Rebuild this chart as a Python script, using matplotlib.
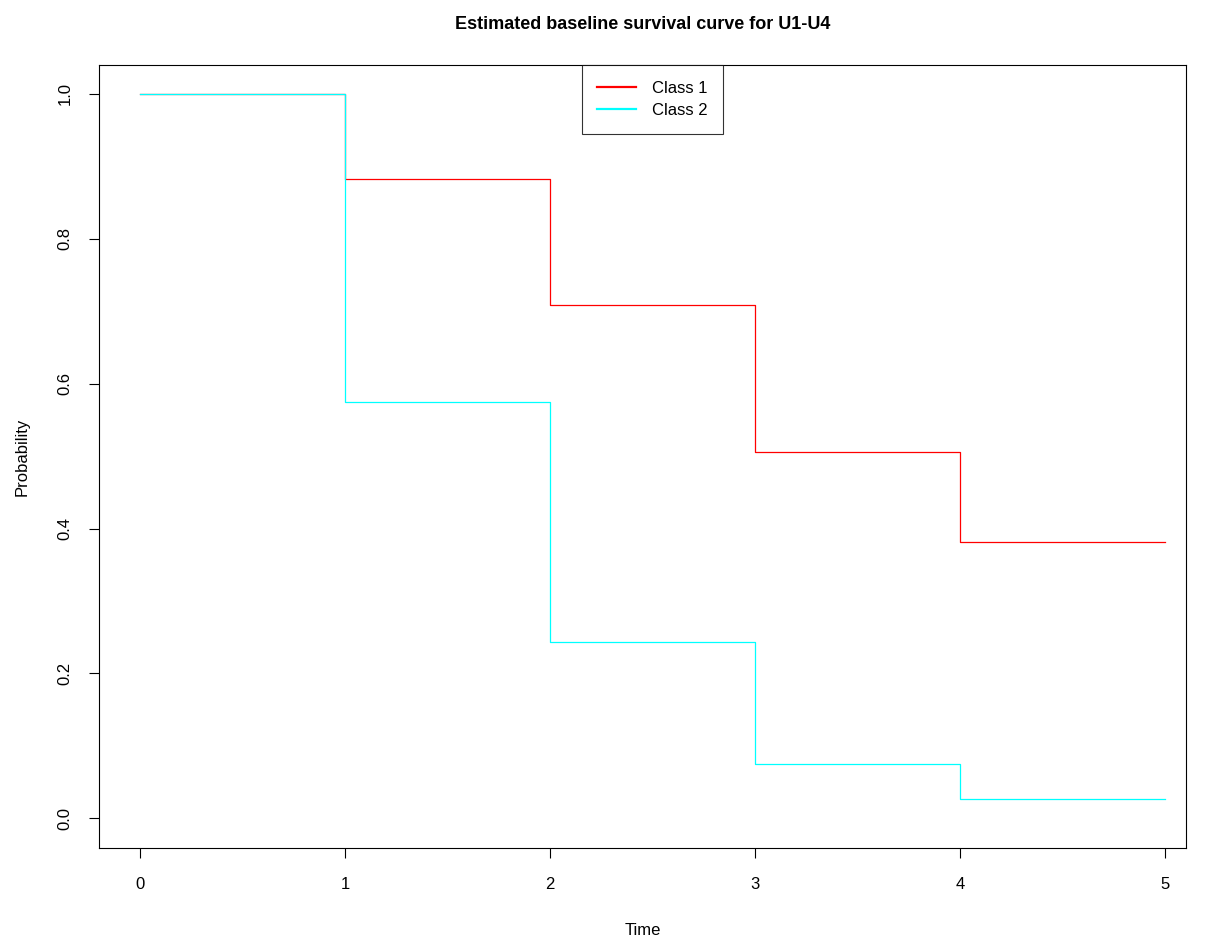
import matplotlib
matplotlib.use("Agg")
import matplotlib.pyplot as plt

plt.rcParams["font.family"] = ["Liberation Sans", "DejaVu Sans"]

times = [0, 1, 2, 3, 4, 5]
class1 = [1.0, 0.883, 0.709, 0.506, 0.381, 0.381]
class2 = [1.0, 0.575, 0.243, 0.075, 0.026, 0.026]
xticks = [0, 1, 2, 3, 4, 5]
yticks = [0.0, 0.2, 0.4, 0.6, 0.8, 1.0]

fig = plt.figure(figsize=(12.06, 9.46), dpi=100)
ax = fig.add_axes([0.0821, 0.1036, 0.9013, 0.8277])

ax.step(times, class1, where="post", color="red", lw=0.9, label="Class 1")
ax.step(times, class2, where="post", color="cyan", lw=0.9, label="Class 2")

ax.set_xlim(-0.2, 5.1)
ax.set_ylim(-0.041, 1.04)
ax.set_xticks(xticks)
ax.set_xticklabels([str(t) for t in xticks])
ax.set_yticks(yticks)
ax.set_yticklabels([f"{v:.1f}" for v in yticks], rotation=90, va="center")
ax.tick_params(direction="out", length=7, width=0.8, labelsize=12, pad=14)
ax.tick_params(axis="y", pad=12)
for s in ax.spines.values():
    s.set_linewidth(0.8)

ax.set_xlabel("Time", fontsize=12, labelpad=22)
ax.set_ylabel("Probability", fontsize=12, labelpad=20)
ax.set_title("Estimated baseline survival curve for U1-U4", fontsize=13,
             fontweight="bold", pad=26)

leg = ax.legend(loc="upper left", bbox_to_anchor=(0.444, 1.0), fontsize=12,
                frameon=True, fancybox=False, handlelength=2.3,
                borderpad=0.95, labelspacing=0.45, handletextpad=0.95,
                borderaxespad=0)
leg.get_frame().set_edgecolor("black")
leg.get_frame().set_linewidth(0.8)
for line in leg.get_lines():
    line.set_linewidth(1.6)

fig.savefig("out.png", dpi=100)
